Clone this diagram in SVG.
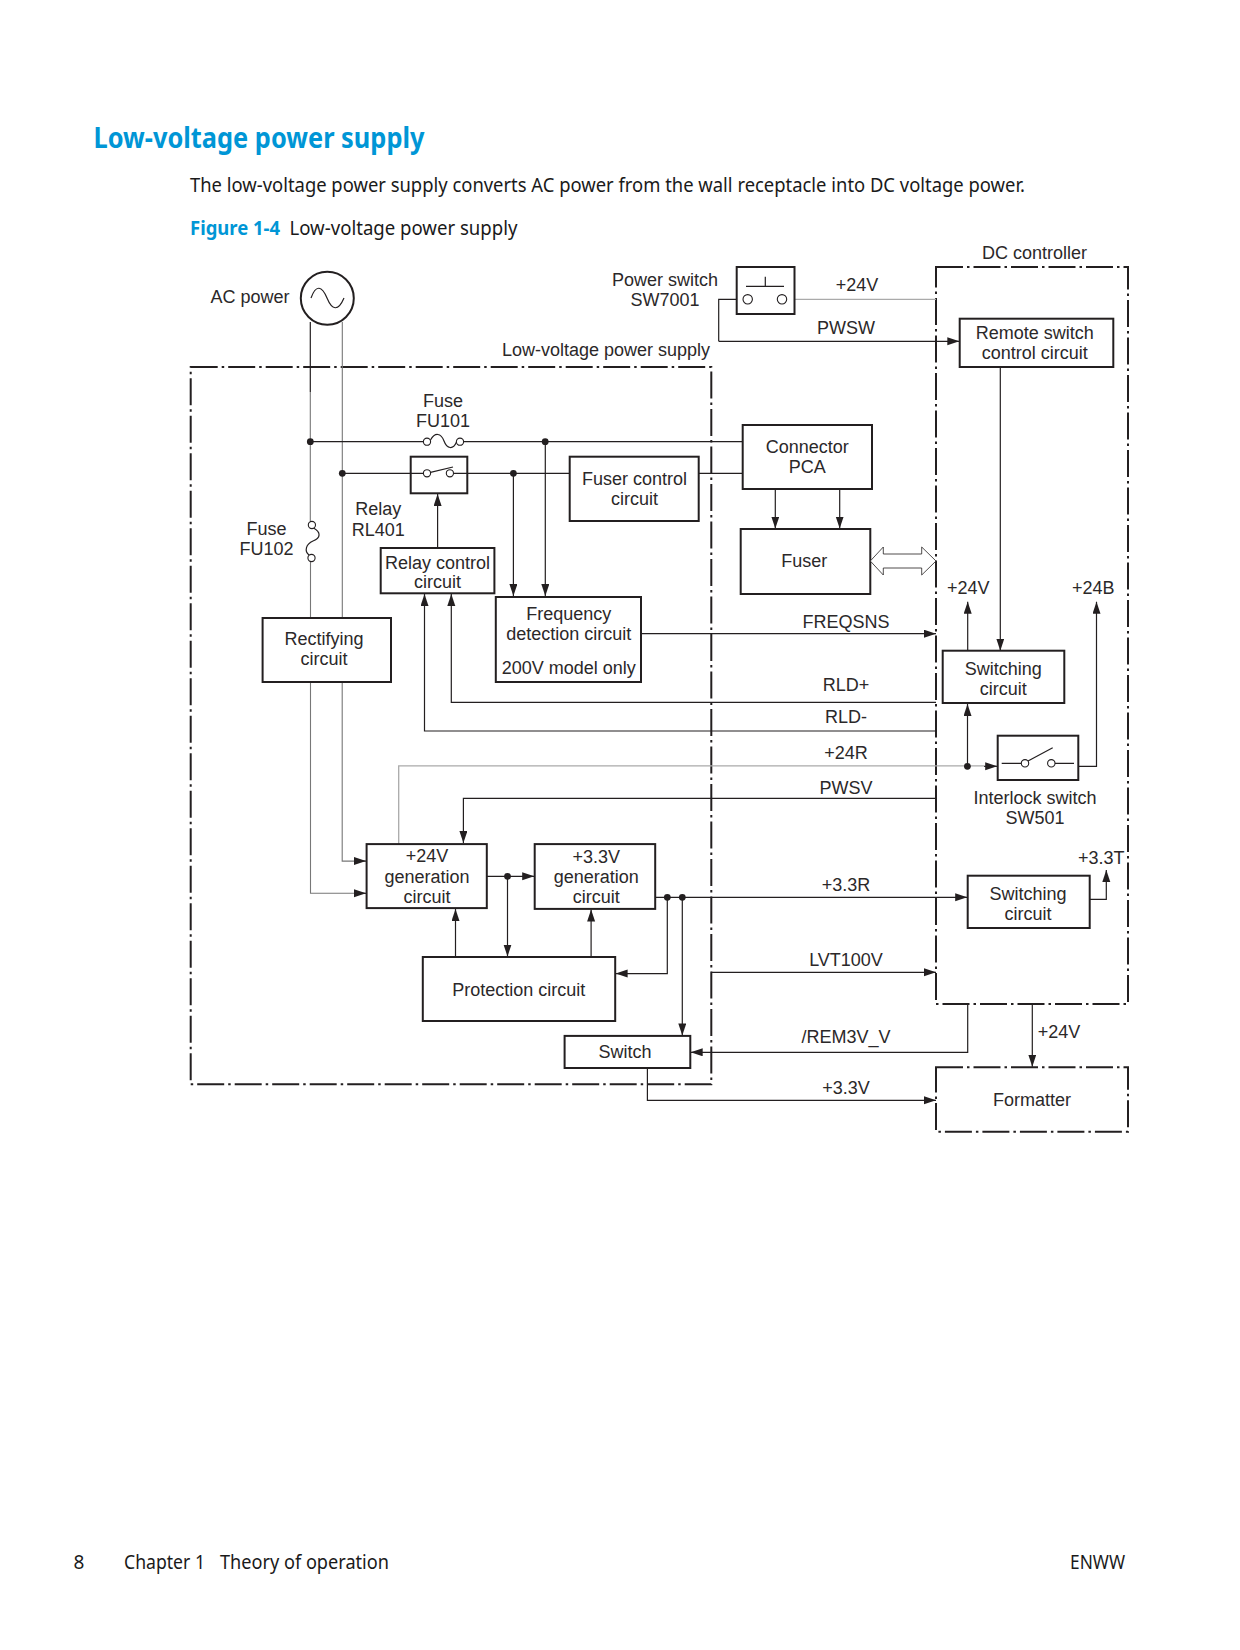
<svg xmlns="http://www.w3.org/2000/svg" width="1240" height="1650" viewBox="0 0 1240 1650">
<style>
.t{font-family:"Liberation Sans",Arial,sans-serif;font-size:18px;fill:#2b2829;text-anchor:middle}
.p{font-family:"Noto Sans","Open Sans",sans-serif;font-size:19px;fill:#1a1a1a}
.pb{font-family:"Noto Sans","Open Sans",sans-serif;font-weight:700;fill:#0096d6}
.b{fill:#fff;stroke:#231f20;stroke-width:2}
.f{fill:none;stroke:#231f20;stroke-width:2;stroke-dasharray:27 4 2.5 4}
.w{fill:none;stroke:#231f20;stroke-width:1.2}
.g{fill:none;stroke:#777;stroke-width:1.1}
.l{fill:none;stroke:#aaa;stroke-width:1.3}
.a{marker-end:url(#arr)}
.c{fill:#fff;stroke:#231f20;stroke-width:1.1}
.d{fill:#231f20}
</style>
<defs>
<marker id="arr" markerUnits="userSpaceOnUse" markerWidth="13" markerHeight="9" refX="12" refY="4" orient="auto"><path d="M0,0L12,4L0,8Z" fill="#231f20"/></marker>
</defs>
<rect width="1240" height="1650" fill="#fff"/>
<g id="page-text">
<text class="pb" x="93.5" y="148" font-size="28" textLength="331" lengthAdjust="spacingAndGlyphs">Low-voltage power supply</text>
<text class="p" x="190" y="192" textLength="835" lengthAdjust="spacingAndGlyphs">The low-voltage power supply converts AC power from the wall receptacle into DC voltage power.</text>
<text class="pb" x="190" y="235" font-size="19" textLength="90" lengthAdjust="spacingAndGlyphs">Figure 1-4</text>
<text class="p" x="289.5" y="235" textLength="228" lengthAdjust="spacingAndGlyphs">Low-voltage power supply</text>
<text class="p" x="73.5" y="1569">8</text>
<text class="p" x="124" y="1569" textLength="81" lengthAdjust="spacingAndGlyphs">Chapter 1</text>
<text class="p" x="220" y="1569" textLength="169" lengthAdjust="spacingAndGlyphs">Theory of operation</text>
<text class="p" x="1070" y="1569" textLength="55" lengthAdjust="spacingAndGlyphs">ENWW</text>
</g>
<g id="frames">
<g id="lv-frame"><rect class="f" x="190.7" y="367" width="520.6" height="717.3"/><text class="t" x="606" y="356">Low-voltage power supply</text></g>
<g id="dc-frame"><rect class="f" x="936" y="267" width="192" height="737"/><text class="t" x="1034.5" y="259">DC controller</text></g>
</g>
<g id="connectors">
<path class="w" d="M310.3,322V392"/><path class="g" d="M310.3,392V521M310.5,558V618M342.3,322V618"/>
<path class="w" d="M310.3,441.7H423M464,441.7H742.7"/>
<path class="w" d="M342.3,473.3H410.7M467.3,473.3H569.7"/>
<path class="w a" d="M513.4,473.3V596"/><path class="w a" d="M545.3,441.7V596"/>
<path class="w a" d="M437.6,548V494"/>
<path class="w" d="M698.7,473.3H742.7"/>
<path class="w a" d="M775.3,489V528.5"/><path class="w a" d="M839.7,489V528.5"/>
<path class="w" d="M742.7,299.3H718.7V341.3"/><path class="w a" d="M718.7,341.3H959.3"/>
<path class="l" d="M786.7,299.3H936"/>
<path class="w a" d="M1000.3,367V650.7"/>
<path class="w a" d="M967.7,650.7V601.7"/>
<path class="w a" d="M1078.7,766.3H1096.5V601.7"/>
<path class="w a" d="M641.3,633.7H936"/>
<path class="w a" d="M936,702.3H451.3V594"/>
<path class="w a" d="M936,731H424.5V594"/>
<path class="l" d="M398.7,844V765.9H984"/>
<path class="w a" d="M984,766.3H997.2"/>
<path class="w a" d="M967.5,766.3V704"/>
<path class="w a" d="M936,798.3H463.4V843"/>
<path class="g" d="M342.2,618V861.1H354"/><path class="g" d="M310.5,682V893.3H354"/>
<path class="w a" d="M354,861.1H366"/><path class="w a" d="M354,893.3H366"/>
<path class="w a" d="M486.8,876.3H534.2"/>
<path class="w a" d="M507.5,876.3V956.5"/>
<path class="w a" d="M455.5,957V909"/><path class="w a" d="M591.1,957V909.5"/>
<path class="w a" d="M655.2,897.3H967.2"/>
<path class="w a" d="M667.3,897.3V973.6H615.6"/>
<path class="w a" d="M682.3,897.3V1035.4"/>
<path class="w a" d="M711.3,972.3H936"/>
<path class="w a" d="M967.7,1004V1052.3H690.7"/>
<path class="w a" d="M647.4,1068V1100.3H936"/>
<path class="w a" d="M1032.3,1004V1066.7"/>
<path class="w a" d="M1089.7,899.3H1106.3V870"/>
<circle class="d" cx="310.3" cy="441.7" r="3.4"/><circle class="d" cx="342.3" cy="473.3" r="3.4"/>
<circle class="d" cx="545.2" cy="441.7" r="3.4"/><circle class="d" cx="513.4" cy="473.3" r="3.4"/>
<circle class="d" cx="507.5" cy="876.3" r="3.4"/><circle class="d" cx="667.3" cy="897.3" r="3.4"/>
<circle class="d" cx="682.3" cy="897.3" r="3.4"/><circle class="d" cx="967.4" cy="766.3" r="3.4"/>
</g>
<g id="ac-power"><circle cx="327.3" cy="298.3" r="26.5" fill="#fff" stroke="#231f20" stroke-width="2"/><path class="w" d="M311,298C316,284 322,286 327,298C332,310 338,312 344,298"/><text class="t" x="250" y="303.3">AC power</text></g>
<g id="fuse-fu101"><path class="w" d="M430.5,440C435,432 441,433 444,441C447,449 453,450 456.5,442"/><circle class="c" cx="427" cy="441.7" r="3.6"/><circle class="c" cx="460" cy="441.7" r="3.6"/><text class="t" x="443" y="406.7">Fuse</text><text class="t" x="443" y="427">FU101</text></g>
<g id="fuse-fu102"><path class="w" d="M313.5,528C321,532 321,538 313,541C306,544 304,551 309,555"/><circle class="c" cx="311.9" cy="525" r="3.6"/><circle class="c" cx="311.5" cy="558" r="3.6"/><text class="t" x="266.5" y="535">Fuse</text><text class="t" x="266.5" y="555">FU102</text></g>
<g id="relay-rl401"><rect class="b" x="410.7" y="456.7" width="56.6" height="36.6"/><path class="w" d="M411,473.3H423.4M453.5,473.3H467"/><path class="w" d="M430.5,472.3L453,467"/><circle class="c" cx="427" cy="473.3" r="3.6"/><circle class="c" cx="449.9" cy="473.3" r="3.6"/><text class="t" x="378.3" y="515.3">Relay</text><text class="t" x="378.3" y="536">RL401</text></g>
<g id="power-switch"><rect class="b" x="736.7" y="267" width="57.8" height="47"/><path class="w" d="M746,286.3H784M765.3,276.7V286.3"/><circle class="c" cx="747.7" cy="299.3" r="4.7"/><circle class="c" cx="782" cy="299.3" r="4.7"/><text class="t" x="665" y="286">Power switch</text><text class="t" x="665" y="306">SW7001</text></g>
<g id="remote-switch"><rect class="b" x="959.7" y="318.7" width="153.6" height="48.3"/><text class="t" x="1034.7" y="339">Remote switch</text><text class="t" x="1034.7" y="359">control circuit</text></g>
<g id="connector-pca"><rect class="b" x="742.7" y="425" width="129.3" height="64"/><text class="t" x="807.3" y="453">Connector</text><text class="t" x="807.3" y="473">PCA</text></g>
<g id="fuser"><rect class="b" x="740.7" y="529" width="129.6" height="65"/><text class="t" x="804.3" y="567">Fuser</text></g>
<g id="fuser-dc-link"><path d="M870.3,561L883.3,547V554H921.7V547L936,561L921.7,575V568H883.3V575Z" fill="#fff" stroke="#231f20" stroke-width="0.8"/></g>
<g id="fuser-control"><rect class="b" x="569.7" y="456.7" width="129" height="64.3"/><text class="t" x="634.5" y="485">Fuser control</text><text class="t" x="634.5" y="505">circuit</text></g>
<g id="relay-control"><rect class="b" x="380.7" y="548" width="113.7" height="45.3"/><text class="t" x="437.6" y="568.5">Relay control</text><text class="t" x="437.6" y="587.7">circuit</text></g>
<g id="frequency"><rect class="b" x="495.8" y="597" width="145.2" height="85"/><text class="t" x="568.8" y="620.3">Frequency</text><text class="t" x="568.8" y="640.3">detection circuit</text><text class="t" x="568.8" y="674.3">200V model only</text></g>
<g id="rectifying"><rect class="b" x="262.6" y="618" width="128.4" height="64"/><text class="t" x="324" y="645.4">Rectifying</text><text class="t" x="324" y="665">circuit</text></g>
<g id="gen-24"><rect class="b" x="366.6" y="844.1" width="120.2" height="64"/><text class="t" x="427" y="862.3">+24V</text><text class="t" x="427" y="882.6">generation</text><text class="t" x="427" y="902.6">circuit</text></g>
<g id="gen-33"><rect class="b" x="534.7" y="844.1" width="120.5" height="64.8"/><text class="t" x="596.3" y="863">+3.3V</text><text class="t" x="596.3" y="883">generation</text><text class="t" x="596.3" y="902.6">circuit</text></g>
<g id="protection"><rect class="b" x="422.8" y="957" width="192.4" height="64"/><text class="t" x="518.8" y="995.8">Protection circuit</text></g>
<g id="switch"><rect class="b" x="564.6" y="1035.9" width="125.7" height="32.1"/><text class="t" x="625" y="1058.3">Switch</text></g>
<g id="switching-1"><rect class="b" x="942.7" y="650.7" width="121.6" height="52.3"/><text class="t" x="1003.3" y="675.3">Switching</text><text class="t" x="1003.3" y="695">circuit</text></g>
<g id="interlock"><rect class="b" x="997.7" y="735.7" width="80.6" height="44.3"/><path class="w" d="M1001.7,763.3H1021.3M1055,763.3H1074M1028,761L1052.7,747.7"/><circle class="c" cx="1025" cy="763.3" r="3.7"/><circle class="c" cx="1051.3" cy="763.3" r="3.7"/><text class="t" x="1035" y="804.3">Interlock switch</text><text class="t" x="1035" y="824">SW501</text></g>
<g id="switching-2"><rect class="b" x="967.7" y="875.7" width="122" height="52.3"/><text class="t" x="1028" y="900">Switching</text><text class="t" x="1028" y="920">circuit</text></g>
<g id="formatter"><rect class="f" x="936" y="1067.3" width="192" height="64.4"/><text class="t" x="1032" y="1106">Formatter</text></g>
<g id="connector-labels">
<text class="t" x="857" y="290.7">+24V</text><text class="t" x="846" y="334">PWSW</text>
<text class="t" x="846" y="628">FREQSNS</text><text class="t" x="846" y="690.7">RLD+</text>
<text class="t" x="846" y="723.3">RLD-</text><text class="t" x="846" y="759">+24R</text>
<text class="t" x="846" y="794">PWSV</text><text class="t" x="846" y="891">+3.3R</text>
<text class="t" x="846" y="965.7">LVT100V</text><text class="t" x="846" y="1043.3">/REM3V_V</text>
<text class="t" x="846" y="1093.7">+3.3V</text><text class="t" x="1059" y="1037.7">+24V</text>
<text class="t" x="968.3" y="594">+24V</text><text class="t" x="1093.3" y="594">+24B</text>
<text class="t" x="1101.3" y="864">+3.3T</text>
</g>
</svg>
